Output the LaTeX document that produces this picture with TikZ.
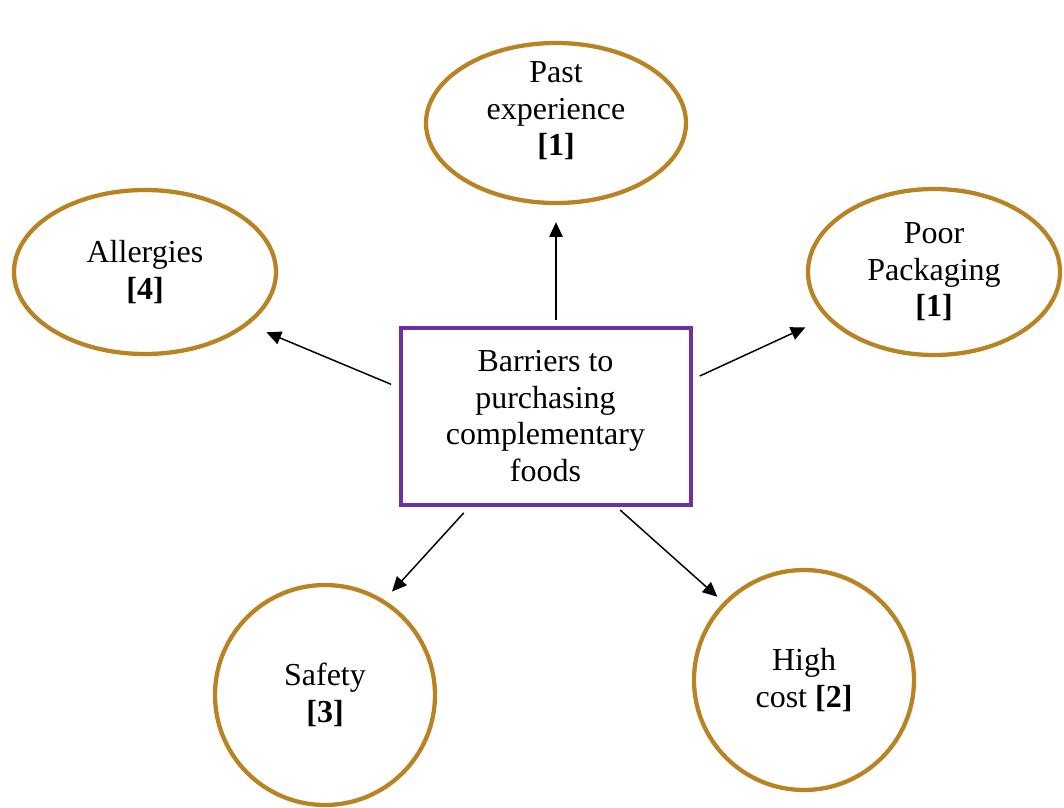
\documentclass[tikz,border=0pt]{standalone}
\usepackage{fontspec}
\setmainfont{Liberation Serif}
\usetikzlibrary{arrows.meta,shapes.geometric}
\definecolor{boxpurple}{RGB}{112,48,160}
\definecolor{ovalgold}{RGB}{185,130,35}

\begin{document}
\begin{tikzpicture}[x=0.75pt,y=0.75pt,
  every node/.style={font=\fontsize{24}{27.4}\selectfont, align=center},
  oval/.style={ellipse, draw=ovalgold, line width=3.2pt, inner sep=0pt},
  mainbox/.style={rectangle, draw=boxpurple, line width=3pt, minimum width=217.5pt, minimum height=132.75pt, inner sep=0pt},
  arr/.style={-{Triangle[length=11pt,width=10pt]}, line width=1.1pt}]
  \useasboundingbox (0,0) rectangle (1064,-807); % 画像全体の範囲
  \node[mainbox] (main) at (545.5,-416) {Barriers to\\purchasing\\complementary\\foods}; % 中央の四角
  \node[oval, inner ysep=-20pt, minimum width=195pt, minimum height=120pt] (past) at (556,-123) {Past\\experience\\\textbf{[1]}\\[-6pt]}; % 上の楕円
  \node[oval, minimum width=196.5pt, minimum height=123pt] (allergy) at (145,-272) {Allergies\\\textbf{[4]}}; % 左の楕円
  \node[oval, minimum width=189pt, minimum height=124.5pt] (pack) at (934,-272) {Poor\\Packaging\\\textbf{[1]}}; % 右の楕円
  \node[oval, minimum width=165pt, minimum height=165pt] (safety) at (325,-695) {Safety\\\textbf{[3]}}; % 左下の円
  \node[oval, minimum width=165pt, minimum height=165pt] (cost) at (804,-680) {High\\cost \textbf{[2]}}; % 右下の円
  \draw[arr, shorten <=4.5pt, shorten >=12.75pt] (main.north -| past) -- (past.south); % 上への矢印
  \draw[arr, shorten <=6pt, shorten >=14.5pt] (main.169) -- (allergy.-27); % 左への矢印
  \draw[arr, shorten <=6pt, shorten >=17pt] (main.14) -- (pack.203); % 右への矢印
  \draw[arr, shorten <=6.5pt, shorten >=8.5pt] (main.230) -- (safety.58); % 左下への矢印
  \draw[arr, shorten <=4pt, shorten >=6pt] (main.308) -- (cost.136); % 右下への矢印
\end{tikzpicture}
\end{document}
